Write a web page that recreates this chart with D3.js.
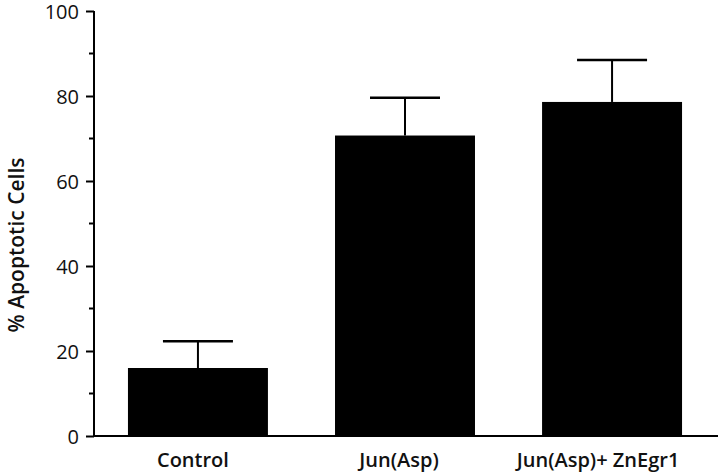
<!DOCTYPE html>
<html>
<head>
<meta charset="utf-8">
<script src="https://cdn.jsdelivr.net/npm/d3@7"></script>
<style>
  body { margin: 0; background: #fff; }
  text { font-family: "Open Sans", "DejaVu Sans", sans-serif; fill: #111; }
</style>
</head>
<body>
<div id="chart"></div>
<script>
var width = 720;
var height = 474;

// data
var categories = ['Control', 'Jun(Asp)', 'Jun(Asp)+ ZnEgr1'];
var means = [16, 70.7, 78.6];
var errors = [6.3, 8.9, 9.9];
var majorTicks = [0, 20, 40, 60, 80, 100];
var minorTicks = [10, 30, 50, 70, 90];

var x0 = 94, xEnd = 718, yTop = 11, yBase = 436;

var svg = d3.select('#chart').append('svg')
    .attr('width', width)
    .attr('height', height);

var y = d3.scaleLinear().domain([0, 100]).range([yBase, yTop]);

var x = d3.scaleBand()
    .domain(categories)
    .range([x0, 716])
    .paddingInner(0.324)
    .paddingOuter(0.164);

// bars
svg.selectAll('rect.bar')
    .data(categories)
    .enter().append('rect')
    .attr('class', 'bar')
    .attr('x', function (d) { return x(d); })
    .attr('width', x.bandwidth())
    .attr('y', function (d, i) { return y(means[i]); })
    .attr('height', function (d, i) { return yBase - y(means[i]); })
    .attr('fill', '#000');

// error bars (upper only)
var capW = 70;
var eb = svg.selectAll('g.err')
    .data(categories)
    .enter().append('g')
    .attr('class', 'err');

eb.append('line')
    .attr('x1', function (d) { return x(d) + x.bandwidth() / 2; })
    .attr('x2', function (d) { return x(d) + x.bandwidth() / 2; })
    .attr('y1', function (d, i) { return y(means[i]); })
    .attr('y2', function (d, i) { return y(means[i] + errors[i]); })
    .attr('stroke', '#000')
    .attr('stroke-width', 2);

eb.append('line')
    .attr('x1', function (d) { return x(d) + x.bandwidth() / 2 - capW / 2; })
    .attr('x2', function (d) { return x(d) + x.bandwidth() / 2 + capW / 2; })
    .attr('y1', function (d, i) { return y(means[i] + errors[i]); })
    .attr('y2', function (d, i) { return y(means[i] + errors[i]); })
    .attr('stroke', '#000')
    .attr('stroke-width', 2.5);

// y axis
var yAxis = d3.axisLeft(y)
    .tickValues(majorTicks)
    .tickSize(8)
    .tickPadding(7)
    .tickFormat(d3.format('d'));

var gy = svg.append('g')
    .attr('transform', 'translate(' + x0 + ',0)')
    .call(yAxis);
gy.select('.domain').remove();
gy.selectAll('.tick line').attr('stroke', '#000').attr('stroke-width', 2);
gy.selectAll('.tick text')
    .attr('font-size', 20)
    .attr('dy', '0.37em')
    .attr('fill', '#111');

svg.append('g')
    .selectAll('line')
    .data(minorTicks)
    .enter().append('line')
    .attr('x1', x0 - 5)
    .attr('x2', x0)
    .attr('y1', function (d) { return y(d); })
    .attr('y2', function (d) { return y(d); })
    .attr('stroke', '#000')
    .attr('stroke-width', 2);

svg.append('line')
    .attr('x1', x0).attr('x2', x0)
    .attr('y1', yTop).attr('y2', yBase)
    .attr('stroke', '#000').attr('stroke-width', 2);

svg.append('line')
    .attr('x1', x0).attr('x2', xEnd)
    .attr('y1', yBase).attr('y2', yBase)
    .attr('stroke', '#000').attr('stroke-width', 2);

// category labels
svg.selectAll('text.cat')
    .data(categories)
    .enter().append('text')
    .attr('class', 'cat')
    .attr('x', function (d, i) { return x(d) + x.bandwidth() / 2 + [-5, -6, -14][i]; })
    .attr('y', 467)
    .attr('text-anchor', 'middle')
    .attr('font-size', 20)
    .attr('font-weight', 600)
    .text(function (d) { return d; });

// y title
svg.append('text')
    .attr('transform', 'translate(24,245) rotate(-90)')
    .attr('text-anchor', 'middle')
    .attr('font-size', 21)
    .attr('font-weight', 600)
    .text('%  Apoptotic Cells');
</script>
</body>
</html>
